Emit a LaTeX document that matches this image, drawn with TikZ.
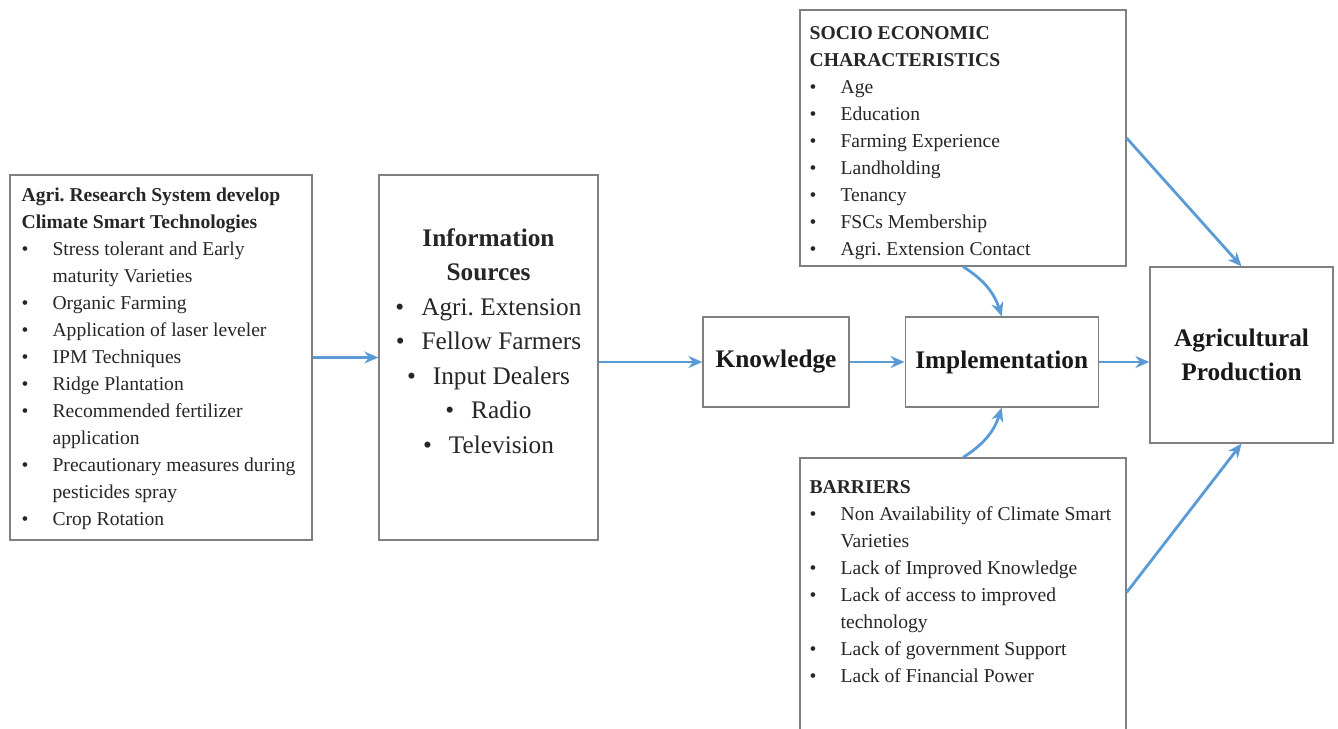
\documentclass[tikz,border=0pt]{standalone}
\usepackage{fontspec}
\setmainfont{Liberation Serif}
\usetikzlibrary{arrows.meta, positioning}
\frenchspacing

\definecolor{flowblue}{RGB}{91,155,213}
\definecolor{framegray}{RGB}{128,128,128}

% bullet and hanging indent for the lists
\newcommand{\bul}{\makebox[31pt][l]{\textbullet}}
\newcommand{\cont}{\hspace*{31pt}}

\tikzset{
    base/.style = {draw=framegray, line width=1.2pt, inner sep=0pt, text=black!90},
    % Boxes
    frame/.style = {base, rectangle},
    stage/.style = {base, rectangle, align=center, font=\bfseries\fontsize{25.3}{34}\selectfont},
    % Texts inside the frames
    listtext/.style = {inner sep=0pt, align=left, text=black!85, font=\fontsize{19.6}{27}\selectfont},
    srctext/.style  = {inner sep=0pt, align=center, text=black!85, font=\fontsize{25.3}{34.5}\selectfont},
    % Connectors
    arrow/.style = {draw=flowblue, line width=2.8pt, -{Stealth[length=14pt, width=12pt]}}
}

\begin{document}
\begin{tikzpicture}[x=1pt, y=-1pt]
    \useasboundingbox (0,0) rectangle (1338,728);

    % Main chain
    \node (agri) [frame, minimum width=302pt, minimum height=365pt] at (161,357.5) {};
    \node (info) [frame, minimum width=219pt, minimum height=365pt] at (488.5,357.5) {};
    \node (know) [stage, minimum width=146pt, minimum height=90pt] at (776,362) {Knowledge};
    \node (impl) [stage, minimum width=193pt, minimum height=90pt, right=55pt of know] {Implementation};
    \node (prod) [stage, minimum width=183pt, minimum height=176pt] at (1241.5,355) {Agricultural\\Production};

    % Factors above and below implementation
    \node (socio) [frame, minimum width=326pt, minimum height=256pt] at (963,138) {};
    \node (barr) [frame, minimum width=326pt, minimum height=285pt] at (963,600.5) {};

    % Lists
    \node (agrilist) [listtext, below right=13pt and 12pt of agri.north west] {%
        \textbf{Agri. Research System develop}\\
        \textbf{Climate Smart Technologies}\\
        \bul Stress tolerant and Early\\
        \cont maturity Varieties\\
        \bul Organic Farming\\
        \bul Application of laser leveler\\
        \bul IPM Techniques\\
        \bul Ridge Plantation\\
        \bul Recommended fertilizer\\
        \cont application\\
        \bul Precautionary measures during\\
        \cont pesticides spray\\
        \bul Crop Rotation};
    \node (infolist) [srctext, below=54pt of info.north] {%
        \textbf{Information}\\
        \textbf{Sources}\\
        \textbullet\hspace{17pt}Agri. Extension\\
        \textbullet\hspace{17pt}Fellow Farmers\\
        \textbullet\hspace{17pt}Input Dealers\\
        \textbullet\hspace{17pt}Radio\\
        \textbullet\hspace{17pt}Television};
    \node (sociolist) [listtext, below right=17pt and 10pt of socio.north west] {%
        \textbf{SOCIO ECONOMIC}\\
        \textbf{CHARACTERISTICS}\\
        \bul Age\\
        \bul Education\\
        \bul Farming Experience\\
        \bul Landholding\\
        \bul Tenancy\\
        \bul FSCs Membership\\
        \bul Agri. Extension Contact};
    \node (barrlist) [listtext, below right=23pt and 10pt of barr.north west] {%
        \textbf{BARRIERS}\\
        \bul Non Availability of Climate Smart\\
        \cont Varieties\\
        \bul Lack of Improved Knowledge\\
        \bul Lack of access to improved\\
        \cont technology\\
        \bul Lack of government Support\\
        \bul Lack of Financial Power};

    % Flow arrows
    \draw [arrow] (agri) -- (info);
    \draw [arrow] (info.east |- know) -- (know);
    \draw [arrow] (know) -- (impl);
    \draw [arrow] (impl) -- (impl -| prod.west);
    \draw [arrow] (socio.south) to[bend left=20] (impl.north);
    \draw [arrow] (barr.north) to[bend right=20] (impl.south);
    \draw [arrow] (socio.east) -- (prod.north);
    \draw [arrow] ([yshift=8pt]barr.east) -- (prod.south);
\end{tikzpicture}
\end{document}
